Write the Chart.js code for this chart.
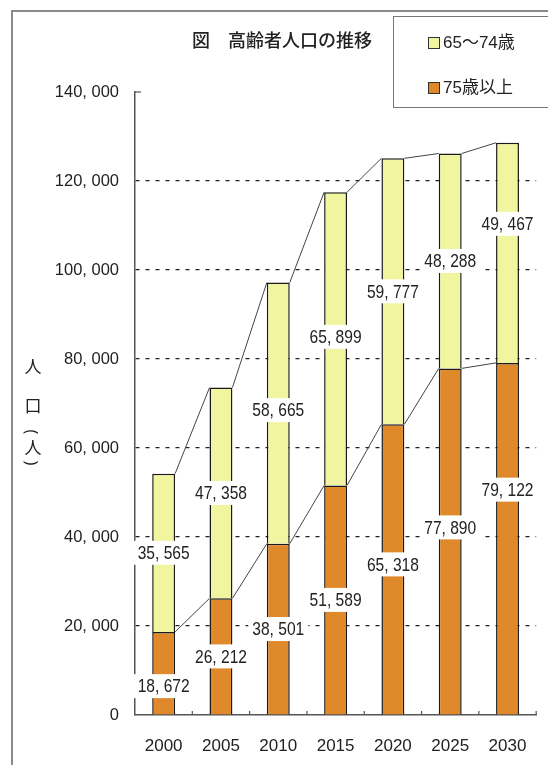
<!DOCTYPE html>
<html>
<head>
<meta charset="utf-8">
<script src="https://cdn.jsdelivr.net/npm/chart.js@4"></script>
<style>
  html, body { margin: 0; padding: 0; background: #fff; }
  #wrap { position: relative; width: 548px; height: 765px; overflow: hidden; }
  #frame { position: absolute; left: 11px; top: 10px; width: 600px; height: 800px;
           border-left: 2px solid #8a8a8a; border-top: 2px solid #8a8a8a; }
  #title { position: absolute; left: 192px; top: 26px; font: 500 18px "Noto Sans CJK JP", sans-serif;
           color: #222; white-space: nowrap; }
  #legend { position: absolute; left: 393px; top: 16px; width: 170px; height: 90px;
            border: 1.5px solid #777; }
  .item { position: absolute; left: 34px; font: 17px "Liberation Sans", "Noto Sans CJK JP", sans-serif;
          color: #222; white-space: nowrap; }
  .sw { display: inline-block; width: 10px; height: 10px; border: 1.5px solid #333;
        margin-right: 3px; vertical-align: -1px; }
  .ych { position: absolute; width: 20px; height: 20px; text-align: center; left: 23px;
         font: 17px "Noto Sans CJK JP", sans-serif; color: #222; line-height: 20px; }
  .ych.rot { font: 16px "Noto Sans", sans-serif; transform: rotate(90deg); }
  canvas { position: absolute; left: 0; top: 0; }
</style>
</head>
<body>
<div id="wrap">
  <canvas id="chart" width="548" height="765"></canvas>
  <div id="frame"></div>
  <div id="title">図　高齢者人口の推移</div>
  <div id="legend"></div>
  <div id="ytitle"></div>
</div>
<script>
// データ
const years = ["2000", "2005", "2010", "2015", "2020", "2025", "2030"];
const seriesNames = ["65～74歳", "75歳以上"];
const young = [35565, 47358, 58665, 65899, 59777, 48288, 49467];
const old = [18672, 26212, 38501, 51589, 65318, 77890, 79122];
const yTicks = [0, 20000, 40000, 60000, 80000, 100000, 120000, 140000];

const yellow = "#f1f59f";
const orange = "#e0892b";

// ラベルの上下のずらし (px)
const nudgeOld = [13, 0, 0, 0, -5, -14, -49];
const nudgeYoung = [0, 0, -3, -2, 0, 0, -29];

const numFont = '"Liberation Sans", Arial, sans-serif';

const fmt = (v) => v.toLocaleString("en-US").replace(",", ", ");

// 凡例
const legend = document.getElementById("legend");
[[seriesNames[0], yellow, 11], [seriesNames[1], orange, 56]].forEach(([name, col, top]) => {
  const d = document.createElement("div");
  d.className = "item";
  d.style.top = top + "px";
  d.innerHTML = '<span class="sw" style="background:' + col + '"></span>' + name;
  legend.appendChild(d);
});

// 縦軸タイトル (括弧は回転)
const ytitle = document.getElementById("ytitle");
[["人", 356, false], ["口", 395, false], ["(", 422, true], ["人", 437, false], [")", 453, true]].forEach(([ch, top, rot]) => {
  const d = document.createElement("div");
  d.className = rot ? "ych rot" : "ych";
  d.style.top = top + "px";
  d.textContent = ch;
  ytitle.appendChild(d);
});

// 棒の間をつなぐ線
const connectors = {
  id: "connectors",
  afterDatasetsDraw(chart) {
    const ctx = chart.ctx;
    ctx.save();
    ctx.strokeStyle = "#444";
    ctx.lineWidth = 1;
    chart.data.datasets.forEach((ds, di) => {
      const bars = chart.getDatasetMeta(di).data;
      for (let i = 0; i < bars.length - 1; i++) {
        const a = bars[i], b = bars[i + 1];
        ctx.beginPath();
        ctx.moveTo(a.x + a.width / 2, a.y);
        ctx.lineTo(b.x - b.width / 2, b.y);
        ctx.stroke();
      }
    });
    // 軸の小さい目盛り
    const xs = chart.scales.x, ys = chart.scales.y;
    ctx.strokeStyle = "#555";
    ctx.lineWidth = 1.2;
    const step = xs.getPixelForValue(1) - xs.getPixelForValue(0);
    for (let i = 1; i <= years.length; i++) {
      const x = xs.getPixelForValue(i) - step / 2;
      ctx.beginPath();
      ctx.moveTo(x, ys.bottom);
      ctx.lineTo(x, ys.bottom - 4);
      ctx.stroke();
    }
    const yt = ys.getPixelForValue(140000);
    ctx.beginPath();
    ctx.moveTo(xs.left, yt);
    ctx.lineTo(xs.left + 6, yt);
    ctx.stroke();
    ctx.restore();
  },
};

// 数値ラベル (白い箱)
const valueLabels = {
  id: "valueLabels",
  afterDraw(chart) {
    const ctx = chart.ctx;
    const sx = 0.82; // 細い書体の代わり
    ctx.save();
    ctx.font = "19px " + numFont;
    ctx.textAlign = "center";
    ctx.textBaseline = "middle";
    chart.data.datasets.forEach((ds, di) => {
      const nudge = di === 0 ? nudgeOld : nudgeYoung;
      chart.getDatasetMeta(di).data.forEach((bar, i) => {
        const txt = fmt(ds.data[i]);
        const cy = (bar.y + bar.base) / 2 + nudge[i];
        const w = ctx.measureText(txt).width * sx + 8;
        ctx.fillStyle = "#fff";
        ctx.fillRect(bar.x - w / 2, cy - 12, w, 24);
        ctx.save();
        ctx.translate(bar.x, cy + 1);
        ctx.scale(sx, 1);
        ctx.fillStyle = "#222";
        ctx.fillText(txt, 0, 0);
        ctx.restore();
      });
    });
    ctx.restore();
  },
};

new Chart(document.getElementById("chart").getContext("2d"), {
  type: "bar",
  data: {
    labels: years,
    datasets: [
      { label: seriesNames[1], data: old, backgroundColor: orange, borderColor: "#1a1a1a", borderWidth: 1.5 },
      { label: seriesNames[0], data: young, backgroundColor: yellow, borderColor: "#1a1a1a", borderWidth: 1.5 },
    ],
  },
  options: {
    responsive: false,
    animation: false,
    layout: { padding: { left: 0, right: 8, top: 92, bottom: 0 } },
    datasets: { bar: { categoryPercentage: 1, barPercentage: 0.4 } },
    plugins: { legend: { display: false }, title: { display: false }, tooltip: { enabled: false } },
    scales: {
      x: {
        stacked: true,
        grid: { display: false, drawTicks: false },
        border: { display: true, color: "#555", width: 1.5 },
        ticks: { color: "#222", font: { family: numFont, size: 17 }, padding: 21 },
        afterFit: (s) => { s.height = 50; },
      },
      y: {
        stacked: true,
        min: 0,
        max: 140000,
        afterBuildTicks: (s) => { s.ticks = yTicks.map((v) => ({ value: v })); },
        afterFit: (s) => { s.width = 135; },
        grid: {
          drawTicks: false,
          color: (c) => (c.tick && (c.tick.value === 0 || c.tick.value === 140000) ? "rgba(0,0,0,0)" : "#222"),
          lineWidth: 1.2,
        },
        border: { display: true, color: "#555", width: 1.5, dash: [4, 6] },
        ticks: { color: "#222", font: { family: numFont, size: 16.5 }, padding: 16, callback: (v) => fmt(v) },
      },
    },
  },
  plugins: [connectors, valueLabels],
});
</script>
</body>
</html>
